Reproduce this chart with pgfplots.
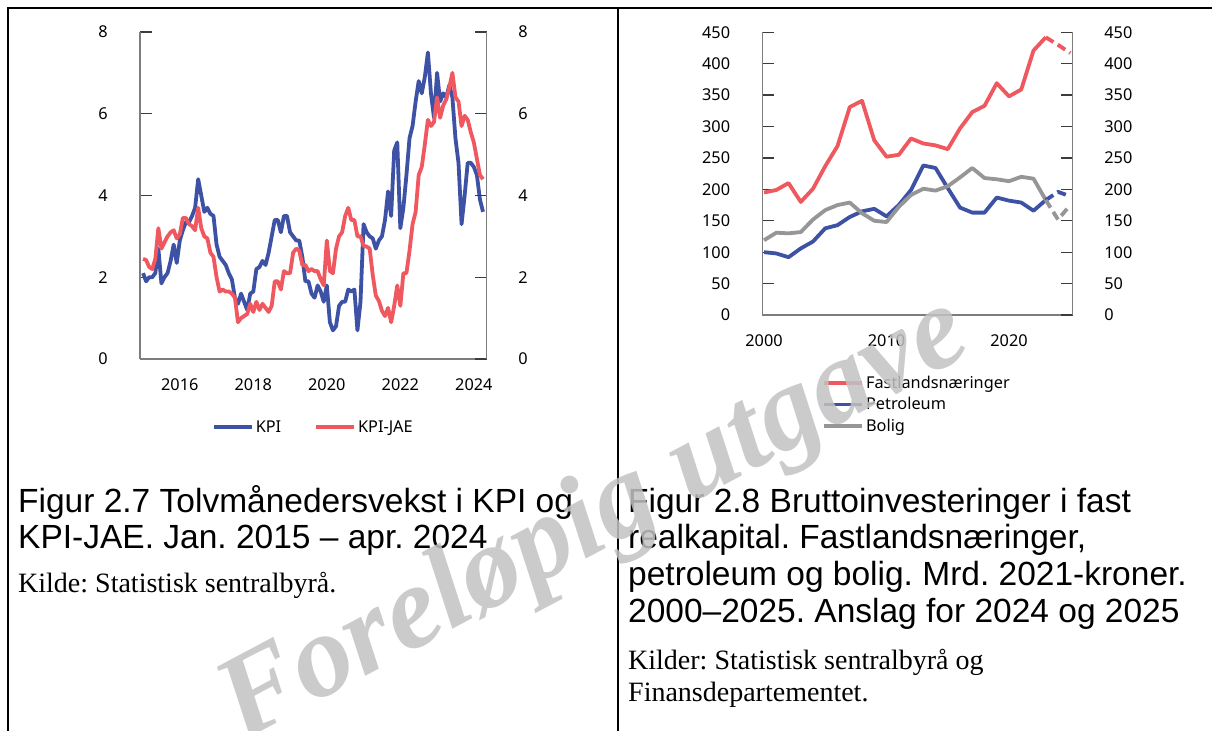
\documentclass[border=0pt]{standalone}
\usepackage{fontspec}
\setmainfont{Noto Sans}
\newfontfamily\capfont{Liberation Sans}
\newfontfamily\srcfont{Liberation Serif}
\usepackage{pgfplots}
\usepackage{pgfplotstable}
\pgfplotsset{compat=1.18}
\definecolor{kblue}{RGB}{62,82,165}
\definecolor{kred}{RGB}{240,88,95}
\definecolor{kgrey}{RGB}{150,150,150}
\definecolor{axgrey}{RGB}{125,125,125}
\definecolor{tickc}{RGB}{60,60,60}

\pgfplotstableread{
m kpi jae
0 2.1 2.45
1 1.9 2.42
2 2.0 2.25
3 2.0 2.2
4 2.1 2.45
5 2.7 3.2
6 1.85 2.7
7 2.0 2.85
8 2.1 3.0
9 2.4 3.1
10 2.8 3.15
11 2.35 2.95
12 2.9 3.05
13 3.15 3.45
14 3.35 3.45
15 3.35 3.3
16 3.5 3.25
17 3.7 3.15
18 4.4 3.7
19 4.0 3.2
20 3.6 3.0
21 3.7 2.95
22 3.55 2.6
23 3.5 2.5
24 2.8 2.0
25 2.5 1.65
26 2.4 1.7
27 2.3 1.65
28 2.1 1.65
29 1.95 1.6
30 1.5 1.5
31 1.35 0.9
32 1.6 1.0
33 1.4 1.05
34 1.2 1.1
35 1.6 1.35
36 1.65 1.15
37 2.2 1.4
38 2.25 1.2
39 2.4 1.35
40 2.3 1.25
41 2.6 1.15
42 3.0 1.3
43 3.4 1.9
44 3.4 1.9
45 3.1 1.7
46 3.5 2.15
47 3.5 2.1
48 3.1 2.1
49 3.0 2.6
50 2.9 2.7
51 2.9 2.65
52 2.5 2.3
53 1.9 2.3
54 1.9 2.15
55 1.6 2.2
56 1.5 2.15
57 1.8 2.15
58 1.65 1.95
59 1.4 1.8
60 1.8 2.9
61 0.9 2.15
62 0.7 2.1
63 0.8 2.7
64 1.3 3.0
65 1.4 3.1
66 1.4 3.5
67 1.7 3.7
68 1.65 3.4
69 1.7 3.4
70 0.7 3.0
71 1.4 3.0
72 3.3 2.77
73 3.1 2.75
74 3.0 2.7
75 2.95 2.05
76 2.7 1.55
77 2.9 1.42
78 3.0 1.18
79 3.4 1.05
80 4.1 1.25
81 3.5 0.9
82 5.1 1.3
83 5.3 1.8
84 3.2 1.3
85 3.7 2.1
86 4.5 2.1
87 5.4 2.65
88 5.7 3.3
89 6.3 3.6
90 6.8 4.5
91 6.5 4.7
92 6.9 5.25
93 7.5 5.85
94 6.5 5.7
95 5.9 5.8
96 7.0 6.4
97 6.3 5.9
98 6.5 6.2
99 6.4 6.35
100 6.7 6.65
101 6.4 7.0
102 5.4 6.4
103 4.8 6.3
104 3.3 5.7
105 4.0 5.95
106 4.8 5.85
107 4.8 5.55
108 4.7 5.3
109 4.5 4.9
110 3.9 4.5
111 3.6 4.4
}\kpidata

\pgfplotstableread{
yr fast petro bolig
2000 195 100 119
2001 199 98 131
2002 210 92 130
2003 180 106 132
2004 201 117 152
2005 237 138 167
2006 269 143 175
2007 331 156 179
2008 341 165 162
2009 278 169 150
2010 252 157 148
2011 255 175 172
2012 281 199 191
2013 273 238 201
2014 270 234 198
2015 264 202 205
2016 297 171 219
2017 323 163 234
2018 333 163 218
2019 369 187 216
2020 348 182 213
2021 359 179 220
2022 421 166 217
2023 442 183 183
}\invdata

\pgfplotstableread{
yr fast petro bolig
2023 442 183 183
2024 430 196 152
2025 417 189 175
}\invfc

\newcommand\tickfont{\fontsize{16.3bp}{19bp}\selectfont}
\pgfplotsset{
  common/.style={
    scale only axis,
    axis line style={-, draw=axgrey, line width=1.5bp},
    major tick length=12bp,
    tick align=inside,
    ytick style={draw=tickc, line width=1.3bp},
    xtick style={draw=none},
    tick label style={font=\tickfont, /pgf/number format/assume math mode=true, /pgf/number format/1000 sep={}},
    xticklabel style={anchor=center, inner sep=0pt, yshift=-26bp},
    legend image code/.code={\draw[##1, line width=3.8bp] (0bp,0bp) -- (31bp,0bp); \path (0bp,0bp) -- (38bp,0bp);},
  },
  lefty/.style={yticklabel style={anchor=east, inner sep=0pt, xshift=-32bp}},
  righty/.style={yticklabel style={anchor=west, inner sep=0pt, xshift=31.5bp}},
  dline/.style={line width=3.8bp, line join=round},
}

\begin{document}
\frenchspacing
\begin{tikzpicture}
\path[use as bounding box] (0,0) rectangle (1212bp,-731bp);
\fill[white] (0,0) rectangle (1212bp,-731bp);
\draw[black, line width=1.3bp] (8bp,-731bp) -- (8bp,-8bp) -- (1212bp,-8bp);
\draw[black, line width=1.3bp] (618bp,-8bp) -- (618bp,-731bp);

% ---------- left chart ----------
\begin{axis}[common, lefty, at={(140bp,-359bp)}, anchor=south west,
  width=346.7bp, height=327bp,
  xmin=2014.917, xmax=2024.35, ymin=0, ymax=8,
  axis x line*=bottom, axis y line*=left,
  xtick={2016,2018,2020,2022,2024}, ytick={0,2,4,6,8},
  legend columns=2,
  legend style={at={(axis description cs:0.5,-0.208)}, anchor=center, draw=none, fill=none,
    font=\tickfont, /tikz/every even column/.append style={column sep=31bp}},
]
\addplot[kblue, dline] table[x expr=2015+\thisrow{m}/12, y=kpi]{\kpidata};
\addlegendentry{KPI}
\addplot[kred, dline] table[x expr=2015+\thisrow{m}/12, y=jae]{\kpidata};
\addlegendentry{KPI-JAE}
\end{axis}
\begin{axis}[common, righty, at={(140bp,-359bp)}, anchor=south west,
  width=346.7bp, height=327bp,
  xmin=2014.917, xmax=2024.35, ymin=0, ymax=8,
  axis x line=none, axis y line*=right, ytick={0,2,4,6,8}]
\end{axis}

% ---------- right chart ----------
\begin{axis}[common, lefty, at={(762.3bp,-315bp)}, anchor=south west,
  width=310.4bp, height=282.7bp,
  xmin=1999.86, xmax=2025.2, ymin=0, ymax=450,
  axis x line*=bottom, axis y line*=left,
  xtick={2000,2010,2020}, ytick={0,50,...,450},
  legend style={at={(axis description cs:0.183,-0.3166)}, anchor=west, draw=none, fill=none,
    font=\tickfont, row sep=4bp},
  legend cell align=left,
]
\addplot[kred, dline] table[x=yr, y=fast]{\invdata};
\addlegendentry{Fastlandsnæringer}
\addplot[kblue, dline] table[x=yr, y=petro]{\invdata};
\addlegendentry{Petroleum}
\addplot[kgrey, dline] table[x=yr, y=bolig]{\invdata};
\addlegendentry{Bolig}
\addplot[kred, dline, dash pattern=on 9bp off 5bp, forget plot] table[x=yr, y=fast]{\invfc};
\addplot[kblue, dline, dash pattern=on 9bp off 5bp, forget plot] table[x=yr, y=petro]{\invfc};
\addplot[kgrey, dline, dash pattern=on 9bp off 5bp, forget plot] table[x=yr, y=bolig]{\invfc};
\end{axis}
\begin{axis}[common, righty, at={(762.3bp,-315bp)}, anchor=south west,
  width=310.4bp, height=282.7bp,
  xmin=1999.86, xmax=2025.2, ymin=0, ymax=450,
  axis x line=none, axis y line*=right, ytick={0,50,...,450}]
\end{axis}

% ---------- captions ----------
\begin{scope}[every node/.style={anchor=base west, inner sep=0pt}]
\node[font=\capfont\fontsize{33.5bp}{36bp}\selectfont] at (18bp,-512bp) {Figur 2.7 Tolvmånedersvekst i KPI og};
\node[font=\capfont\fontsize{33.5bp}{36bp}\selectfont] at (18bp,-548bp) {KPI-JAE. Jan. 2015 – apr. 2024};
\node[font=\srcfont\fontsize{28bp}{32bp}\selectfont] at (18bp,-592bp) {Kilde: Statistisk sentralbyrå.};
\node[font=\capfont\fontsize{33.5bp}{36bp}\selectfont] at (628bp,-512bp) {Figur 2.8 Bruttoinvesteringer i fast};
\node[font=\capfont\fontsize{33.5bp}{36bp}\selectfont] at (628bp,-548.7bp) {realkapital. Fastlandsnæringer,};
\node[font=\capfont\fontsize{33.5bp}{36bp}\selectfont] at (628bp,-585.4bp) {petroleum og bolig. Mrd. 2021-kroner.};
\node[font=\capfont\fontsize{33.5bp}{36bp}\selectfont] at (628bp,-622bp) {2000–2025. Anslag for 2024 og 2025};
\node[font=\srcfont\fontsize{28bp}{32bp}\selectfont] at (628bp,-669bp) {Kilder: Statistisk sentralbyrå og};
\node[font=\srcfont\fontsize{28bp}{32bp}\selectfont] at (628bp,-701bp) {Finansdepartementet.};
\end{scope}

% ---------- watermark ----------
\node[rotate=28, font=\srcfont\bfseries\itshape\fontsize{118bp}{118bp}\selectfont, text=black!24, opacity=0.85, inner sep=0pt] at (595bp,-522bp) {Foreløpig utgave};
\end{tikzpicture}
\end{document}
